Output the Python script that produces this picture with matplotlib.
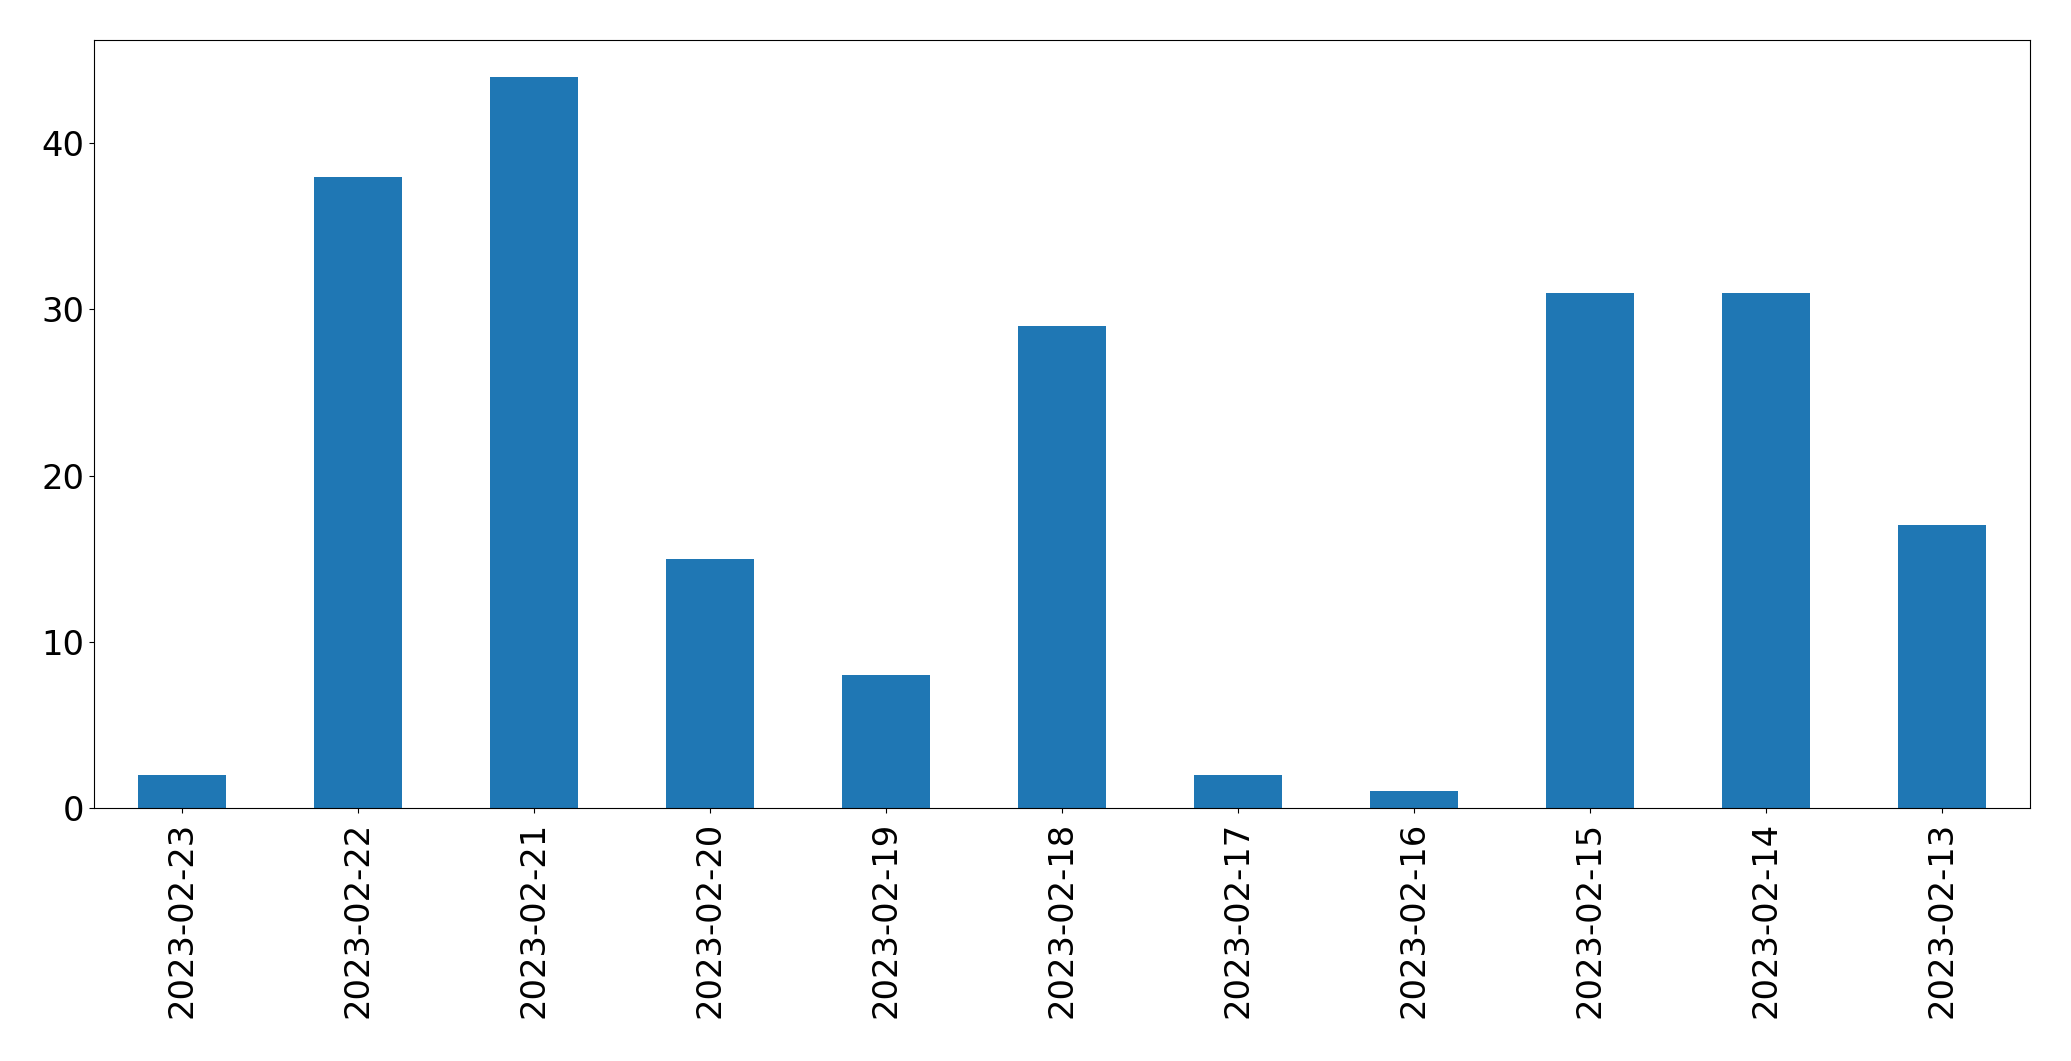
import matplotlib
matplotlib.use("Agg")
import matplotlib.pyplot as plt
import pandas as pd

dates = ["2023-02-23", "2023-02-22", "2023-02-21", "2023-02-20", "2023-02-19",
         "2023-02-18", "2023-02-17", "2023-02-16", "2023-02-15", "2023-02-14",
         "2023-02-13"]
counts = [2, 38, 44, 15, 8, 29, 2, 1, 31, 31, 17]

s = pd.Series(counts, index=dates)

fig = plt.figure(figsize=(20.71, 10.61), dpi=100)
ax = fig.add_axes([0.0454, 0.2385, 0.9346, 0.7235])
s.plot(kind="bar", ax=ax, fontsize=24.3)
ax.tick_params(axis="x", pad=6.5)

fig.savefig("out.png", dpi=100)
